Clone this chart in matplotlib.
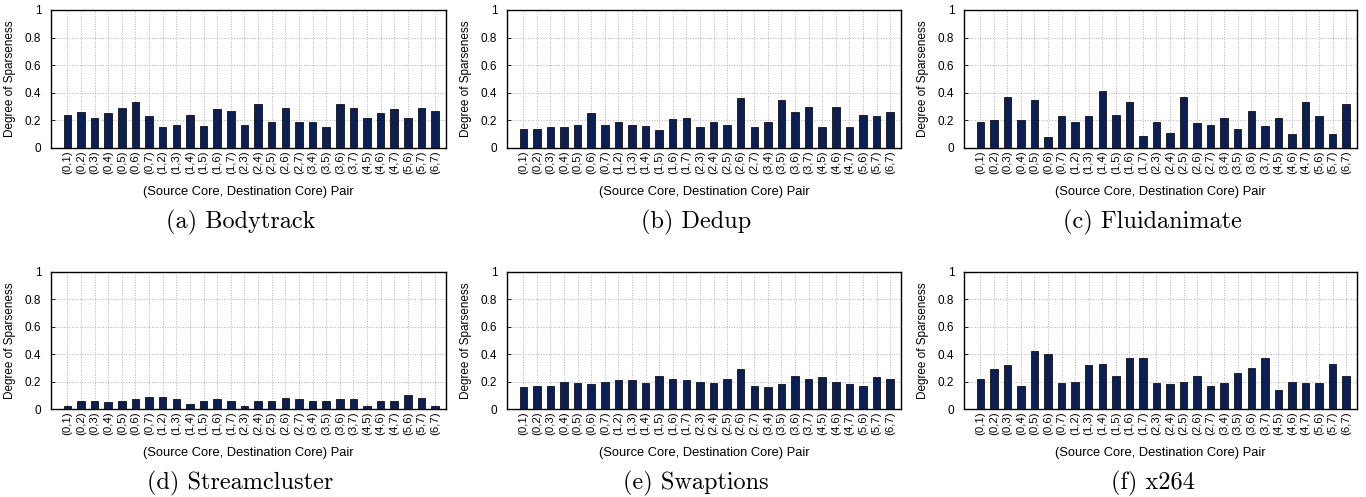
import matplotlib
matplotlib.use("Agg")
import matplotlib.pyplot as plt
import numpy as np

# (src, dst) core pairs
pairs = [f"({i},{j})" for i in range(8) for j in range(i + 1, 8)]

bodytrack = [0.24, 0.26, 0.22, 0.25, 0.29, 0.33, 0.23, 0.15, 0.17, 0.24, 0.16, 0.28, 0.27, 0.17,
             0.32, 0.19, 0.29, 0.19, 0.19, 0.15, 0.32, 0.29, 0.22, 0.25, 0.28, 0.22, 0.29, 0.27]
dedup = [0.14, 0.14, 0.15, 0.15, 0.17, 0.25, 0.17, 0.19, 0.17, 0.16, 0.13, 0.21, 0.22, 0.15,
         0.19, 0.17, 0.36, 0.15, 0.19, 0.35, 0.26, 0.30, 0.15, 0.30, 0.15, 0.24, 0.23, 0.26]
fluidanimate = [0.19, 0.20, 0.37, 0.20, 0.35, 0.08, 0.23, 0.19, 0.23, 0.41, 0.24, 0.33, 0.09, 0.19,
                0.11, 0.37, 0.18, 0.17, 0.22, 0.14, 0.27, 0.16, 0.22, 0.10, 0.33, 0.23, 0.10, 0.32]
streamcluster = [0.02, 0.06, 0.06, 0.05, 0.06, 0.07, 0.09, 0.09, 0.07, 0.04, 0.06, 0.07, 0.06, 0.02,
                 0.06, 0.06, 0.08, 0.07, 0.06, 0.06, 0.07, 0.07, 0.02, 0.06, 0.06, 0.10, 0.08, 0.02]
swaptions = [0.16, 0.17, 0.17, 0.20, 0.19, 0.18, 0.20, 0.21, 0.21, 0.19, 0.24, 0.22, 0.21, 0.20,
             0.19, 0.22, 0.29, 0.17, 0.16, 0.18, 0.24, 0.22, 0.23, 0.20, 0.18, 0.17, 0.23, 0.22]
x264 = [0.22, 0.29, 0.32, 0.17, 0.42, 0.40, 0.19, 0.20, 0.32, 0.33, 0.24, 0.37, 0.37, 0.19,
        0.18, 0.20, 0.24, 0.17, 0.19, 0.26, 0.30, 0.37, 0.14, 0.20, 0.19, 0.19, 0.33, 0.24]

captions = ["(a) Bodytrack", "(b) Dedup", "(c) Fluidanimate",
            "(d) Streamcluster", "(e) Swaptions", "(f) x264"]
series = [bodytrack, dedup, fluidanimate, streamcluster, swaptions, x264]

W, H = 1366, 497
fig = plt.figure(figsize=(W / 100, H / 100), dpi=100)
plt.rcParams['font.family'] = ['Liberation Sans', 'DejaVu Sans']

# axes boxes in pixels
lefts = [51, 507, 964]
rights = [446, 901, 1357]
tops = [10, 272]
bottoms = [148, 409]
bar_color = '#0b1f55'

x = np.arange(len(pairs))
for k, (vals, cap) in enumerate(zip(series, captions)):
    r, c = divmod(k, 3)
    l, rt = lefts[c], rights[c]
    t, b = tops[r], bottoms[r]
    ax = fig.add_axes([l / W, 1 - b / H, (rt - l) / W, (b - t) / H])
    ax.bar(x, vals, width=0.55, color=bar_color, edgecolor='#111111', linewidth=0.6, zorder=3)
    ax.set_xlim(-1.2, len(pairs) - 0.2)
    ax.set_ylim(0, 1)
    ax.set_yticks([0, 0.2, 0.4, 0.6, 0.8, 1])
    ax.set_yticklabels(["0", "0.2", "0.4", "0.6", "0.8", "1"], fontsize=8.5)
    ax.set_xticks(x)
    ax.set_xticklabels(pairs, rotation=90, fontsize=8.2)
    ax.tick_params(axis='both', length=3, width=0.6, pad=2, direction='in')
    ax.tick_params(axis='y', pad=7)
    ax.grid(True, linestyle=':', color='#b0b0b0', linewidth=0.7, zorder=0)
    for sp in ax.spines.values():
        sp.set_linewidth(1.0)
    ax.set_ylabel("Degree of Sparseness", fontsize=8.5, labelpad=6)
    ax.set_xlabel("(Source Core, Destination Core) Pair", fontsize=9.3, va='center')
    ax.xaxis.set_label_coords(0.5, -44 / (b - t))
    fig.text(((l + rt) / 2 - 8) / W, 1 - (b + 74) / H, cap, ha='center', va='center',
             fontsize=17.5, family='cmr10')

fig.savefig("out.png", dpi=100)
